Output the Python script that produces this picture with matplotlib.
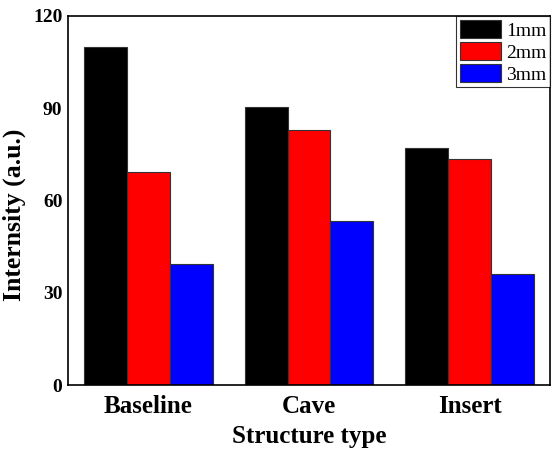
import matplotlib
matplotlib.use("Agg")
import matplotlib.pyplot as plt
import numpy as np

categories = ["Baseline", "Cave", "Insert"]
series_labels = ["1mm", "2mm", "3mm"]
values_1mm = [110.0, 90.3, 77.0]
values_2mm = [69.4, 83.0, 73.5]
values_3mm = [39.3, 53.4, 36.2]
yticks = [0, 30, 60, 90, 120]
colors = ["#000000", "#ff0000", "#0000ff"]

plt.rcParams["font.family"] = ["Liberation Serif", "DejaVu Serif"]

fig = plt.figure(figsize=(5.55, 4.49), dpi=100)
ax = fig.add_axes([68/555, 1-385/449, (550-68)/555, (385-16)/449])

x = np.arange(len(categories))
w = 0.8/3
for i, (vals, lab, c) in enumerate(zip([values_1mm, values_2mm, values_3mm], series_labels, colors)):
    ax.bar(x + (i-1)*w, vals, width=w, color=c, edgecolor="#333333", linewidth=0.8, label=lab)

ax.set_xlim(-0.5, 2.5)
ax.set_ylim(0, 120)
ax.set_yticks(yticks)
ax.set_xticks(x)
ax.set_xticklabels(categories, fontsize=18, fontweight="bold")
for t in ax.get_yticklabels():
    t.set_fontsize(14)
    t.set_fontweight("bold")
ax.tick_params(axis="y", length=0, pad=4)
ax.tick_params(axis="x", length=0, pad=7)
for s in ax.spines.values():
    s.set_linewidth(1.2)

ax.set_xlabel("Structure type", fontsize=18, fontweight="bold", labelpad=5)
ax.set_ylabel("Internsity (a.u.)", fontsize=18.5, fontweight="bold")
ax.yaxis.set_label_coords(-0.087, 0.46)

leg = ax.legend(loc="upper right", fontsize=14, frameon=True, fancybox=False,
                edgecolor="black", borderaxespad=0, handlelength=2.1, handleheight=1.05,
                labelspacing=0.12, handletextpad=0.25, borderpad=0.2)
leg.get_frame().set_linewidth(0.8)

fig.savefig("out.png", dpi=100)
